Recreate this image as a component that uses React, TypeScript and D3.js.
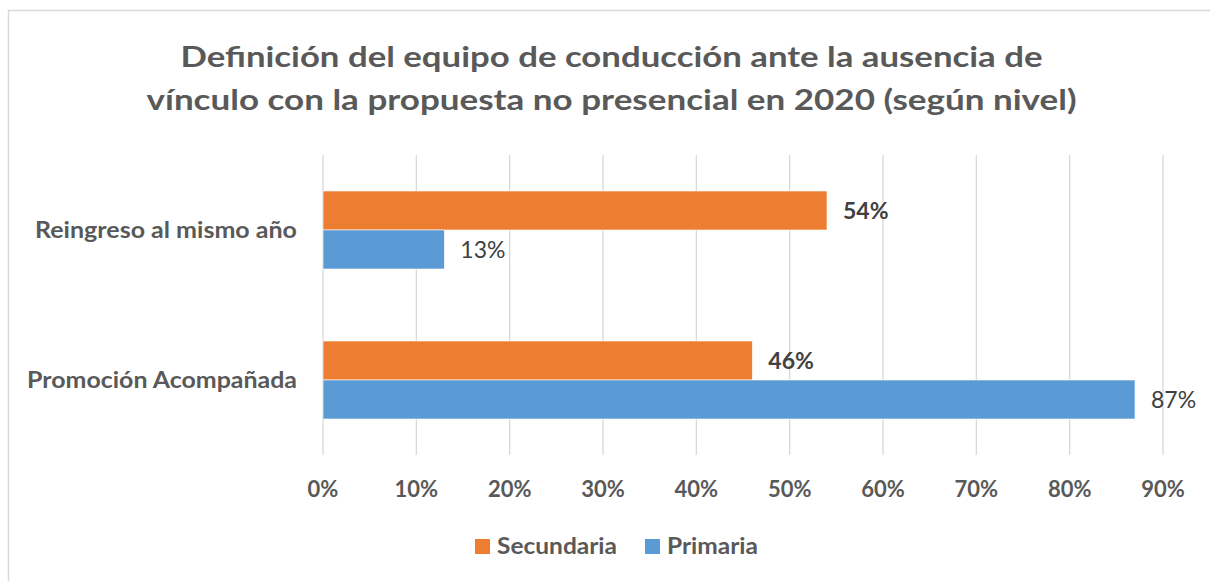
import React from "react";
import * as d3 from "d3";

const categories = ["Reingreso al mismo año", "Promoción Acompañada"];
const seriesNames = ["Secundaria", "Primaria"];
const secundaria = [0.54, 0.46];
const primaria = [0.13, 0.87];
const xTicks = [0, 0.1, 0.2, 0.3, 0.4, 0.5, 0.6, 0.7, 0.8, 0.9];
const titleLines = [
  "Definición del equipo de conducción ante la ausencia de",
  "vínculo con la propuesta no presencial en 2020 (según nivel)",
];

const colors: Record<string, string> = { Secundaria: "#ED7D31", Primaria: "#5B9BD5" };
const FONT = "Lato, 'Open Sans', sans-serif";
const titleWidths = [862, 930];
const catWidths = [262, 270];
const legendWidths = [120, 91];

export default function App() {
  const W = 1210, H = 581;
  const x = d3.scaleLinear().domain([0, 0.9]).range([323, 1163]);
  const y0 = d3.scaleBand<string>().domain(categories).range([155, 455]).paddingInner(0.48).paddingOuter(0.24);
  const y1 = d3.scaleBand<string>().domain(seriesNames).range([0, y0.bandwidth()]);
  const values: Record<string, number[]> = { Secundaria: secundaria, Primaria: primaria };
  const fmt = d3.format(".0%");

  return (
    <svg width={W} height={H} style={{ position: "absolute", left: 0, top: 0, background: "#fff" }} fontFamily={FONT}>
      <rect x={0} y={0} width={W} height={H} fill="#fff" />
      <path d={`M8.5,${H + 5} V10.5 H${W + 5}`} fill="none" stroke="#d9d9d9" strokeWidth={1.5} />
      {titleLines.map((t, i) => (
        <text key={i} x={611.5 - titleWidths[i] / 2} y={67 + i * 43} fontSize={29} fontWeight={700} fill="#595959"
          textLength={titleWidths[i]} lengthAdjust="spacingAndGlyphs">{t}</text>
      ))}
      {xTicks.map((t) => (
        <g key={t}>
          <line x1={x(t)} x2={x(t)} y1={155} y2={455} stroke="#d9d9d9" strokeWidth={1.3} />
          <text x={x(t)} y={497} textAnchor="middle" fontSize={22} fontWeight={700} fill="#595959">{fmt(t)}</text>
        </g>
      ))}
      {categories.map((c, ci) => (
        <g key={c}>
          <text x={297 - catWidths[ci]} y={(y0(c) as number) + y0.bandwidth() / 2 + 8} fontSize={23} fontWeight={700} fill="#595959"
            textLength={catWidths[ci]} lengthAdjust="spacingAndGlyphs">{c}</text>
          {seriesNames.map((s) => {
            const v = values[s][ci];
            const yy = (y0(c) as number) + (y1(s) as number);
            return (
              <g key={s}>
                <rect x={x(0)} y={yy} width={x(v) - x(0)} height={y1.bandwidth()} fill={colors[s]} stroke="#fff" strokeWidth={0.6} />
                <text x={x(v) + 16} y={yy + y1.bandwidth() / 2} dy="0.36em" fontSize={23} fontWeight={s === "Secundaria" ? 700 : 400} fill="#404040">{fmt(v)}</text>
              </g>
            );
          })}
        </g>
      ))}
      {seriesNames.map((s, i) => {
        const lx = [475, 645][i];
        return (
          <g key={s}>
            <rect x={lx} y={539} width={15} height={15} fill={colors[s]} />
            <text x={lx + 22} y={554} fontSize={22} fontWeight={700} fill="#595959"
              textLength={legendWidths[i]} lengthAdjust="spacingAndGlyphs">{s}</text>
          </g>
        );
      })}
    </svg>
  );
}
